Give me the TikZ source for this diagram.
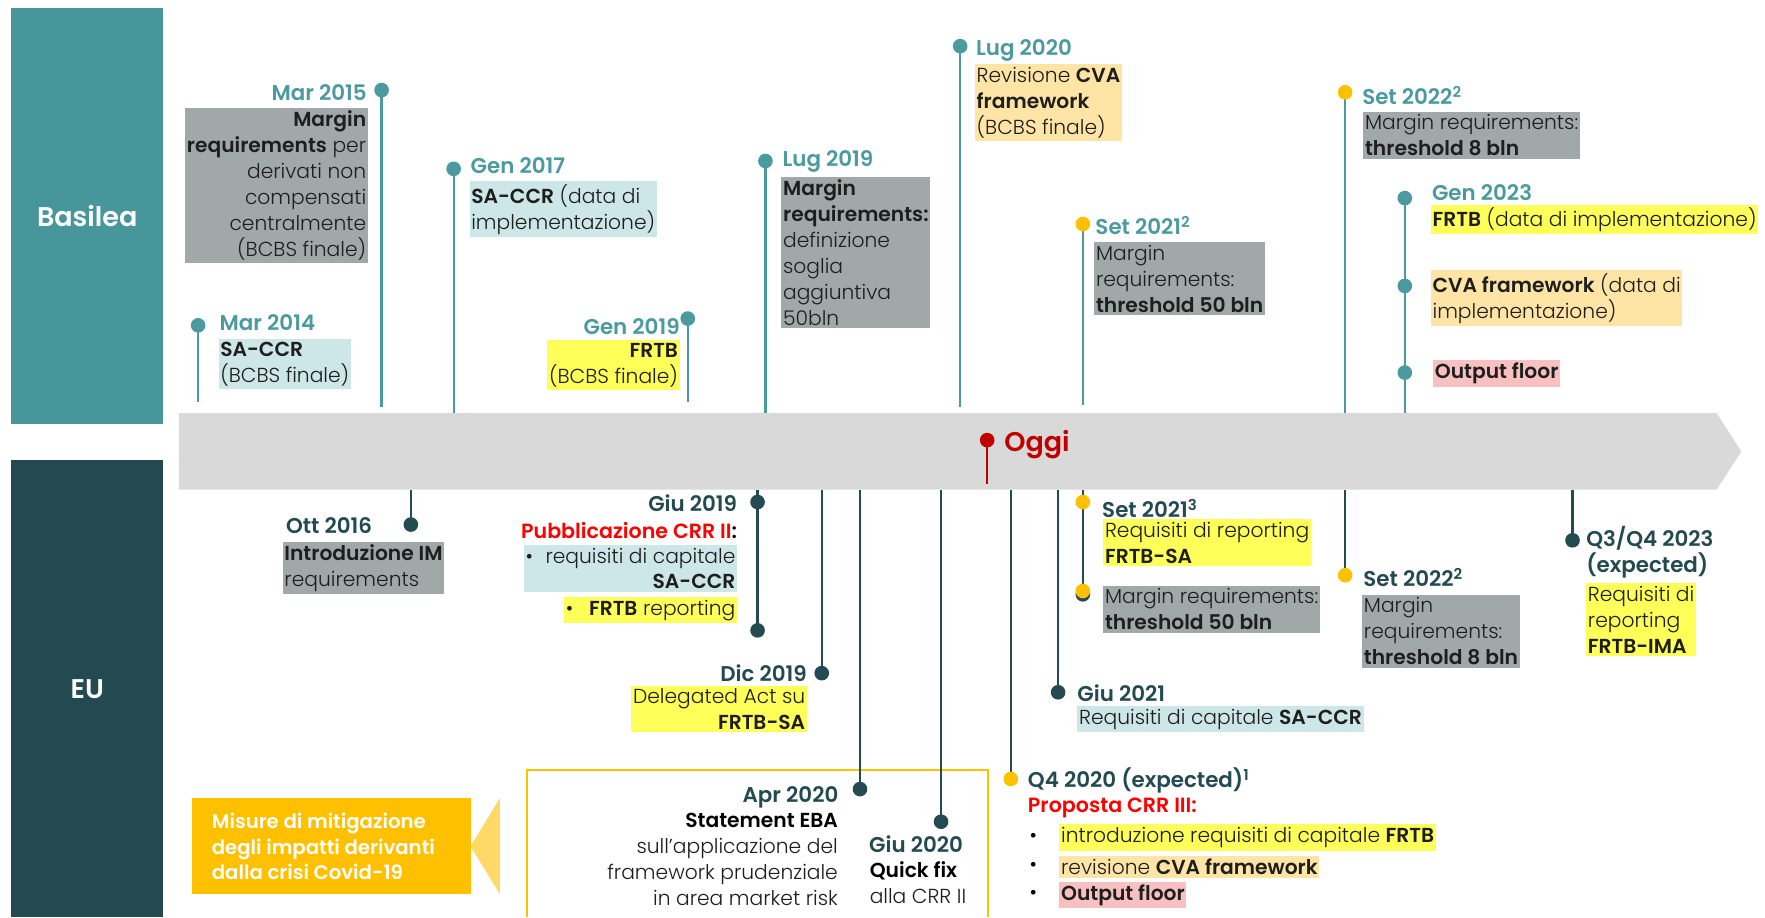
\documentclass[tikz,border=0pt]{standalone}
\usepackage{fontspec}
\setmainfont{Poppins}[UprightFont={* Light}, BoldFont={* SemiBold}]
\definecolor{basT}{RGB}{70,150,156}
\definecolor{euT}{RGB}{35,74,80}
\definecolor{teal1}{RGB}{74,154,160}
\definecolor{dteal}{RGB}{36,75,81}
\definecolor{amber}{RGB}{255,192,0}
\definecolor{amberL}{RGB}{255,217,102}
\definecolor{barG}{RGB}{217,217,217}
\definecolor{oggiR}{RGB}{192,0,0}
\definecolor{brightR}{RGB}{255,0,0}
\definecolor{gFill}{RGB}{160,168,168}
\definecolor{bFill}{RGB}{205,230,232}
\definecolor{yFill}{RGB}{255,255,90}
\definecolor{oFill}{RGB}{255,229,165}
\definecolor{pFill}{RGB}{248,192,192}
\definecolor{txtC}{RGB}{30,30,30}
\begin{document}
\begin{tikzpicture}[x=1pt,y=-1pt,
  lane/.style={font=\fontsize{24}{28}\selectfont\bfseries, text=white},
  linB/.style={draw=teal1, line width=2pt},
  linE/.style={draw=dteal, line width=2pt},
  dotB/.style={circle, fill=teal1, inner sep=0pt, minimum size=13pt},
  dotE/.style={circle, fill=dteal, inner sep=0pt, minimum size=13pt},
  dotA/.style={circle, fill=amber, inner sep=0pt, minimum size=13pt},
  dateB/.style={font=\fontsize{19}{23}\selectfont\bfseries, text=teal1, inner sep=0pt},
  dateE/.style={font=\fontsize{19}{23}\selectfont\bfseries, text=euT, inner sep=0pt},
  txt/.style={font=\fontsize{18}{23}\selectfont, text=txtC, inner xsep=1.5pt, inner ysep=2.5pt},
  gbox/.style={txt, fill=gFill},
  bbox/.style={txt, fill=bFill},
  ybox/.style={txt, fill=yFill},
  obox/.style={txt, fill=oFill},
  pbox/.style={txt, fill=pFill},
  redt/.style={font=\fontsize{18.3}{22}\selectfont\bfseries, text=brightR, inner sep=0pt}
]
\useasboundingbox (0,0) rectangle (1568,815);
\fill[white] (0,0) rectangle (1568,815);

% lanes
\node[fill=basT, minimum width=135pt, minimum height=370pt, inner sep=0pt] (basilea) at (77.5,192) {};
\node[lane] at (basilea.center) {Basilea};
\node[fill=euT, minimum width=135pt, minimum height=406pt, inner sep=0pt] (eu) at (77.5,612) {};
\node[lane] at (eu.center) {EU};

% time bar
\fill[barG] (159,367) -- (1525,367) -- (1547,401) -- (1525,435) -- (159,435) -- cycle;

% ---------- Basilea coordinates ----------
\coordinate (b1) at (176,289);  \coordinate (b1e) at (176,357);
\coordinate (b2) at (339,80);   \coordinate (b2e) at (339,362);
\coordinate (b3) at (403,150);  \coordinate (b3e) at (403,367);
\coordinate (b4) at (611,283);  \coordinate (b4e) at (611,357);
\coordinate (b5) at (680,143);  \coordinate (b5e) at (680,367);
\coordinate (b6) at (853,41);   \coordinate (b6e) at (853,362);
\coordinate (b7) at (962,199);  \coordinate (b7e) at (962,360);
\coordinate (b8) at (1195,82);  \coordinate (b8e) at (1195,367);
\coordinate (b9) at (1248,176); \coordinate (b9b) at (1248,254); \coordinate (b9c) at (1248,331); \coordinate (b9e) at (1248,367);
\foreach \p in {b1,b2,b3,b4,b5,b6,b7,b8,b9} {\draw[linB] (\p) -- (\p e);}
\foreach \p in {b1,b2,b3,b4,b5,b6,b9,b9b,b9c} {\node[dotB] at (\p) {};}
\node[dotA] at (b7) {};
\node[dotA] at (b8) {};

% Basilea texts
\node[dateB, anchor=west] (d1) at (195,287) {Mar 2014};
\node[bbox, anchor=north west, align=left] (t1) at (194,301) {\textbf{SA-CCR}\\(BCBS finale)};

\node[dateB, anchor=east] (d2) at (326,82) {Mar 2015};
\node[gbox, anchor=north east, align=right] (t2) at (327,96) {\textbf{Margin}\\\textbf{requirements} per\\derivati non\\compensati\\centralmente\\(BCBS finale)};

\node[dateB, anchor=west] (d3) at (418,147) {Gen 2017};
\node[bbox, anchor=north west, align=left] (t3) at (417,161) {\textbf{SA-CCR} (data di\\implementazione)};

\node[dateB, anchor=east] (d4) at (604,290) {Gen 2019};
\node[ybox, anchor=north east, align=right] (t4) at (604,302) {\textbf{FRTB}\\(BCBS finale)};

\node[dateB, anchor=west] (d5) at (695,143) {Lug 2019};
\node[gbox, anchor=north west, align=left] (t5) at (694,157) {\textbf{Margin}\\\textbf{requirements:}\\definizione\\soglia\\aggiuntiva\\50bln};

\node[dateB, anchor=west] (d6) at (867,45) {Lug 2020};
\node[obox, anchor=north west, align=left] (t6) at (866,57) {Revisione \textbf{CVA}\\\textbf{framework}\\(BCBS finale)};

\node[dateB, anchor=west] (d7) at (973,200) {Set 2021\textsuperscript{2}};
\node[gbox, anchor=north west, align=left] (t7) at (972,215) {Margin\\requirements:\\\textbf{threshold 50 bln}};

\node[dateB, anchor=west] (d8) at (1210,85) {Set 2022\textsuperscript{2}};
\node[gbox, anchor=north west, align=left] (t8) at (1211,99) {Margin requirements:\\\textbf{threshold 8 bln}};

\node[dateB, anchor=west] (d9) at (1272,171) {Gen 2023};
\node[ybox, anchor=west] (t9a) at (1271,195) {\textbf{FRTB} (data di implementazione)};
\node[obox, anchor=north west, align=left] (t9b) at (1271,240) {\textbf{CVA framework} (data di\\implementazione)};
\node[pbox, anchor=west] (t9c) at (1273,332) {\textbf{Output floor}};

% Oggi
\coordinate (og) at (877,391); \coordinate (oge) at (877,430);
\draw[draw=oggiR, line width=2pt] (og) -- (oge);
\node[circle, fill=oggiR, inner sep=0pt, minimum size=13pt] (ogd) at (og) {};
\node[font=\fontsize{24}{28}\selectfont\bfseries, text=oggiR, anchor=west, inner sep=0pt] (oggi) at (892,395) {Oggi};

% ---------- EU coordinates ----------
\coordinate (e1s) at (365,435);  \coordinate (e1) at (365,466);
\coordinate (e2s) at (673,435);  \coordinate (e2a) at (673,446); \coordinate (e2) at (673,560);
\coordinate (e3s) at (730,435);  \coordinate (e3) at (730,598);
\coordinate (e4s) at (764,435);  \coordinate (e4) at (764,701);
\coordinate (e5s) at (836,435);  \coordinate (e5) at (836,730);
\coordinate (e8s) at (898,435);  \coordinate (e8) at (898,692);
\coordinate (e9s) at (940,435);  \coordinate (e9) at (940,615);
\coordinate (e10s) at (962,435); \coordinate (e10a) at (962,446); \coordinate (e10) at (962,528);
\coordinate (e11s) at (1195,435); \coordinate (e11) at (1195,511);
\coordinate (e12s) at (1397,435); \coordinate (e12) at (1397,480);

% orange frame
\draw[amber, line width=1.8pt] (468,815) -- (468,684) -- (878,684) -- (878,815);

\foreach \p in {e1,e2,e3,e4,e5,e8,e9,e10,e11,e12} {\draw[linE] (\p s) -- (\p);}
\foreach \p in {e1,e2a,e2,e3,e4,e5,e9,e12} {\node[dotE] at (\p) {};}
\node[dotE] at (e10) {};
\foreach \p in {e8,e10a,e11} {\node[dotA] at (\p) {};}
\node[dotA] at ([yshift=3pt]e10) {};

% EU texts
\node[dateE, anchor=west] (f1) at (254,467) {Ott 2016};
\node[gbox, anchor=north west, align=left] (u1) at (251,481) {\textbf{Introduzione IM}\\requirements};

\node[dateE, anchor=east] (f2) at (655,447) {Giu 2019};
\node[redt, anchor=east] (f2b) at (655,471) {Pubblicazione CRR II\textcolor{black}{:}};
\node[bbox, anchor=north east, align=right] (u2a) at (655,484) {\textbullet\hspace{11pt}requisiti di capitale\\\textbf{SA-CCR}};
\node[ybox, anchor=east] (u2b) at (655,542) {\textbullet\hspace{14pt}\textbf{FRTB} reporting};

\node[dateE, anchor=east] (f3) at (717,598) {Dic 2019};
\node[ybox, anchor=north east, align=right] (u3) at (717,609) {Delegated Act su\\\textbf{FRTB-SA}};

\node[dateE, anchor=east] (f4) at (745,708) {Apr 2020};
\node[txt, anchor=north east, align=right] (u4) at (746,720) {\textbf{\color{black}Statement EBA}\\sull’applicazione del\\framework prudenziale\\in area market risk};

\node[dateE, anchor=west] (f5) at (772,750) {Giu 2020};
\node[txt, anchor=north west, align=left] (u5) at (771,763) {\textbf{\color{black}Quick fix}\\alla CRR II};

% Covid box
\fill[amberL] (418,752) -- (444,709) -- (444,794) -- cycle;
\node[fill=amber, minimum width=247pt, minimum height=85pt, inner sep=0pt] (covid) at (294.5,751.5) {};
\node[anchor=west, align=left, text=white, font=\fontsize{17.5}{22.5}\selectfont\bfseries, inner sep=0pt] (covidt) at (188,752) {Misure di mitigazione\\degli impatti derivanti\\dalla crisi Covid-19};

\node[dateE, anchor=west] (f8) at (913,693) {Q4 2020 (expected)\textsuperscript{1}};
\node[redt, anchor=west] (f8b) at (913,718) {Proposta CRR III:};
\foreach \yy in {744,770,795} {\node[txt, anchor=center, text=black] at (918,\yy) {\textbullet};}
\node[ybox, anchor=west] (u8a) at (941,744) {introduzione requisiti di capitale \textbf{FRTB}};
\node[obox, anchor=west] (u8b) at (941,770) {revisione \textbf{CVA framework}};
\node[pbox, anchor=west] (u8c) at (941,795) {\textbf{Output floor}};

\node[dateE, anchor=west] (f9) at (957,616) {Giu 2021};
\node[bbox, anchor=west] (u9) at (957,639) {Requisiti di capitale \textbf{SA-CCR}};

\node[dateE, anchor=west] (f10) at (979,452) {Set 2021\textsuperscript{3}};
\node[ybox, anchor=north west, align=left] (u10a) at (980,461) {Requisiti di reporting\\\textbf{FRTB-SA}};
\node[gbox, anchor=north west, align=left] (u10b) at (980,520) {Margin requirements:\\\textbf{threshold 50 bln}};

\node[dateE, anchor=west] (f11) at (1211,513) {Set 2022\textsuperscript{2}};
\node[gbox, anchor=north west, align=left] (u11) at (1210,528) {Margin\\requirements:\\\textbf{threshold 8 bln}};

\node[dateE, anchor=north west, align=left, font=\fontsize{19}{23}\selectfont\bfseries] (f12) at (1409,467) {Q3/Q4 2023\\(expected)};
\node[ybox, anchor=north west, align=left] (u12) at (1409,518) {Requisiti di\\reporting\\\textbf{FRTB-IMA}};
\end{tikzpicture}
\end{document}
